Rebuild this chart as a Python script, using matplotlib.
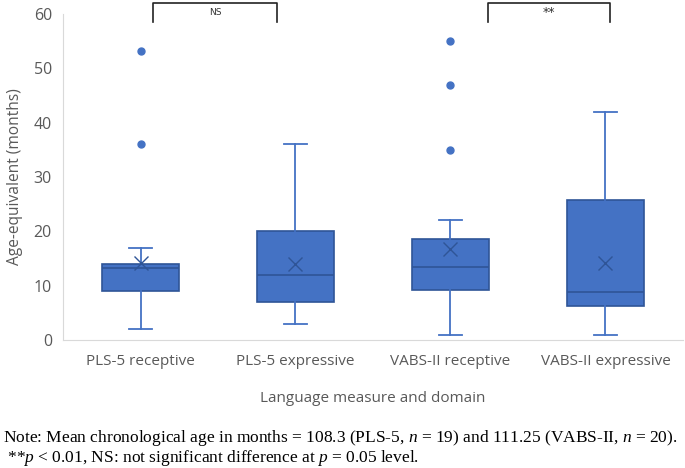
import numpy as np
import matplotlib.pyplot as plt

plt.rcParams['mathtext.fontset'] = 'custom'
plt.rcParams['mathtext.it'] = 'Liberation Serif:italic'
plt.rcParams['mathtext.rm'] = 'Liberation Serif'

categories = ['PLS-5 receptive', 'PLS-5 expressive', 'VABS-II receptive', 'VABS-II expressive']
whislo = [2, 3, 1, 1]
q1 = [9, 7, 9.2, 6.3]
med = [13.2, 12, 13.4, 8.9]
q3 = [14, 20, 18.6, 25.8]
whishi = [17, 36, 22, 42]
means = [14.2, 13.9, 16.7, 14.2]
fliers = [[53.2, 36], [], [55, 47, 35], []]

blue = '#4472C4'
dark = '#2F5597'
grey = '#595959'

fig = plt.figure(figsize=(6.85, 4.68), dpi=100)
ax = fig.add_axes([0.092, 0.2735, 0.905, 0.6965])

stats = []
for i in range(len(categories)):
    stats.append(dict(label=categories[i], whislo=whislo[i], q1=q1[i], med=med[i],
                      q3=q3[i], whishi=whishi[i], mean=means[i], fliers=fliers[i]))

ax.bxp(stats, positions=range(4), widths=0.5, showmeans=True, patch_artist=True,
       boxprops=dict(facecolor=blue, edgecolor=dark, linewidth=1.2),
       medianprops=dict(color=dark, linewidth=1.2),
       whiskerprops=dict(color=blue, linewidth=1.3),
       capprops=dict(color=blue, linewidth=1.3),
       capwidths=0.15,
       meanprops=dict(marker='x', markeredgecolor=dark, markersize=10, markeredgewidth=1.0),
       flierprops=dict(marker='o', markerfacecolor=blue, markeredgecolor=blue, markersize=5))

ax.set_xlim(-0.5, 3.5)
ax.set_ylim(0, 60)
ax.set_yticks(range(0, 61, 10))
for s in ['top', 'right']:
    ax.spines[s].set_visible(False)
for s in ['left', 'bottom']:
    ax.spines[s].set_color('#D9D9D9')
ax.tick_params(length=0, labelsize=11, colors=grey, pad=8)
ax.tick_params(axis='y', labelsize=11.5)
ax.tick_params(axis='x', pad=10)
for lab in ax.get_xticklabels() + ax.get_yticklabels():
    lab.set_fontfamily('Open Sans')
ax.set_ylabel('Age-equivalent (months)', fontsize=11.2, color=grey, family='Open Sans', labelpad=8)
ax.set_xlabel('Language measure and domain', fontsize=11, color=grey, family='Open Sans', labelpad=16)

# significance brackets
brackets = [(0.08, 0.88, 'NS'), (2.24, 3.03, '**')]
for x0, x1, txt in brackets:
    ax.plot([x0, x0, x1, x1], [58.6, 62.0, 62.0, 58.6], color='#222222', lw=1.2,
            clip_on=False, solid_joinstyle='round')
    ax.text((x0 + x1) / 2, 60.2, txt, ha='center', va='center', fontsize=6.5 if txt == 'NS' else 9,
            color='#333333', clip_on=False)

fig.text(0.004, 0.064, 'Note: Mean chronological age in months = 108.3 (PLS-5, $n$ = 19) and 111.25 (VABS-II, $n$ = 20).',
         fontsize=12.55, family='Liberation Serif', va='center')
fig.text(0.004, 0.022, ' **$p$ < 0.01, NS: not significant difference at $p$ = 0.05 level.',
         fontsize=12.55, family='Liberation Serif', va='center')

fig.savefig('out.png', dpi=100)
